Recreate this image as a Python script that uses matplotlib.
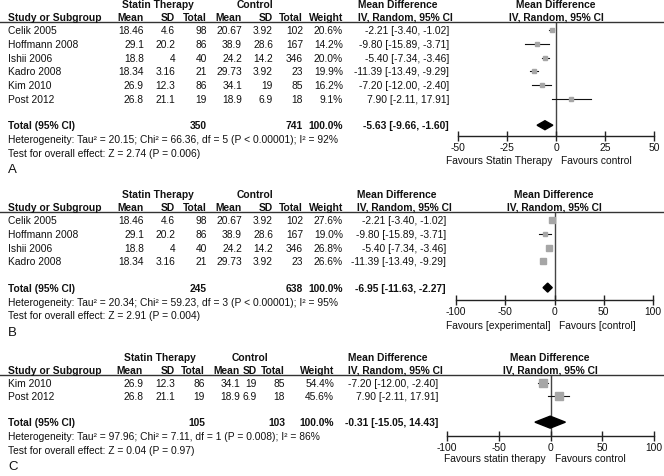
import matplotlib
matplotlib.use("Agg")
import matplotlib.pyplot as plt
from matplotlib.patches import Polygon

plt.rcParams['font.family'] = ['Liberation Sans', 'DejaVu Sans']
plt.rcParams['axes.unicode_minus'] = False

# ---------------- data ----------------
studies_A = ["Celik 2005", "Hoffmann 2008", "Ishii 2006", "Kadro 2008", "Kim 2010", "Post 2012"]
statin_mean_A = ["18.46", "29.1", "18.8", "18.34", "26.9", "26.8"]
statin_sd_A = ["4.6", "20.2", "4", "3.16", "12.3", "21.1"]
statin_n_A = [98, 86, 40, 21, 86, 19]
ctrl_mean_A = ["20.67", "38.9", "24.2", "29.73", "34.1", "18.9"]
ctrl_sd_A = ["3.92", "28.6", "14.2", "3.92", "19", "6.9"]
ctrl_n_A = [102, 167, 346, 23, 85, 18]
weight_A = [20.6, 14.2, 20.0, 19.9, 16.2, 9.1]
md_A = [-2.21, -9.80, -5.40, -11.39, -7.20, 7.90]
lo_A = [-3.40, -15.89, -7.34, -13.49, -12.00, -2.11]
hi_A = [-1.02, -3.71, -3.46, -9.29, -2.40, 17.91]
total_A = dict(n1=350, n2=741, md=-5.63, lo=-9.66, hi=-1.60)
het_A = "Heterogeneity: Tau\u00b2 = 20.15; Chi\u00b2 = 66.36, df = 5 (P < 0.00001); I\u00b2 = 92%"
test_A = "Test for overall effect: Z = 2.74 (P = 0.006)"
ticks_A = [-50, -25, 0, 25, 50]
fav_A = ("Favours Statin Therapy", "Favours control")

studies_B = ["Celik 2005", "Hoffmann 2008", "Ishii 2006", "Kadro 2008"]
statin_mean_B = ["18.46", "29.1", "18.8", "18.34"]
statin_sd_B = ["4.6", "20.2", "4", "3.16"]
statin_n_B = [98, 86, 40, 21]
ctrl_mean_B = ["20.67", "38.9", "24.2", "29.73"]
ctrl_sd_B = ["3.92", "28.6", "14.2", "3.92"]
ctrl_n_B = [102, 167, 346, 23]
weight_B = [27.6, 19.0, 26.8, 26.6]
md_B = [-2.21, -9.80, -5.40, -11.39]
lo_B = [-3.40, -15.89, -7.34, -13.49]
hi_B = [-1.02, -3.71, -3.46, -9.29]
total_B = dict(n1=245, n2=638, md=-6.95, lo=-11.63, hi=-2.27)
het_B = "Heterogeneity: Tau\u00b2 = 20.34; Chi\u00b2 = 59.23, df = 3 (P < 0.00001); I\u00b2 = 95%"
test_B = "Test for overall effect: Z = 2.91 (P = 0.004)"
ticks_B = [-100, -50, 0, 50, 100]
fav_B = ("Favours [experimental]", "Favours [control]")

studies_C = ["Kim 2010", "Post 2012"]
statin_mean_C = ["26.9", "26.8"]
statin_sd_C = ["12.3", "21.1"]
statin_n_C = [86, 19]
ctrl_mean_C = ["34.1", "18.9"]
ctrl_sd_C = ["19", "6.9"]
ctrl_n_C = [85, 18]
weight_C = [54.4, 45.6]
md_C = [-7.20, 7.90]
lo_C = [-12.00, -2.11]
hi_C = [-2.40, 17.91]
total_C = dict(n1=105, n2=103, md=-0.31, lo=-15.05, hi=14.43)
het_C = "Heterogeneity: Tau\u00b2 = 97.96; Chi\u00b2 = 7.11, df = 1 (P = 0.008); I\u00b2 = 86%"
test_C = "Test for overall effect: Z = 0.04 (P = 0.97)"
ticks_C = [-100, -50, 0, 50, 100]
fav_C = ("Favours statin therapy", "Favours control")

# ---------------- figure ----------------
W, H = 664, 477
fig = plt.figure(figsize=(W / 100, H / 100), dpi=100)
FS = 7.4


def T(x, y, s, ha='left', bold=False, size=FS):
    fig.text(x / W, 1 - y / H, s, ha=ha, va='center', fontsize=size,
             fontweight='bold' if bold else 'normal', color='#111111')


def fmt_ci(m, l, h):
    return f"{m:.2f} [{l:.2f}, {h:.2f}]"


def panel(label, studies, sm, ssd, sn, cm, csd, cn, wt, md, lo, hi, tot, het, test,
          ticks, fav, lay):
    yh = lay['yhead']
    yg = yh - 13
    cols = lay['cols']  # right edges: sm, ssd, sn, cm, csd, cn, weight
    mdx = lay['mdx']    # left edge of MD header, right edge of MD text
    # group headers
    T(lay['statin_c'], yg, "Statin Therapy", ha='center', bold=True)
    T(lay['ctrl_c'], yg, "Control", ha='center', bold=True)
    T(mdx[0], yg, "Mean Difference", bold=True)
    x0 = lay['xz']
    T(x0, yg, "Mean Difference", ha='center', bold=True)
    # column headers
    T(8, yh, "Study or Subgroup", bold=True)
    for x, s in zip(cols, ["Mean", "SD", "Total", "Mean", "SD", "Total", "Weight"]):
        T(x, yh, s, ha='right', bold=True)
    T(mdx[0], yh, "IV, Random, 95% CI", bold=True)
    T(x0, yh, "IV, Random, 95% CI", ha='center', bold=True)
    # header rule
    yl = lay['yline']
    fig.add_artist(plt.Line2D([0, 1], [1 - yl / H, 1 - yl / H], color='#333333', lw=1.0))
    # rows
    step = lay['step']
    rows = [lay['row0'] + i * step for i in range(len(studies))]
    for y, st, a, b, c, d, e, f, w, m, l, h in zip(rows, studies, sm, ssd, sn, cm, csd, cn, wt, md, lo, hi):
        T(8, y, st)
        for x, s in zip(cols, [a, b, str(c), d, e, str(f), f"{w:.1f}%"]):
            T(x, y, s, ha='right')
        T(mdx[1], y, fmt_ci(m, l, h), ha='right')
    yt = rows[-1] + 1.9 * step
    T(8, yt, "Total (95% CI)", bold=True)
    T(cols[2], yt, str(tot['n1']), ha='right', bold=True)
    T(cols[5], yt, str(tot['n2']), ha='right', bold=True)
    T(cols[6], yt, "100.0%", ha='right', bold=True)
    T(mdx[1], yt, fmt_ci(tot['md'], tot['lo'], tot['hi']), ha='right', bold=True)
    T(8, yt + 14, het)
    T(8, yt + 27.5, test)
    T(8, yt + 44, label, size=9.5)

    # forest axes
    xL, xR, ya = lay['xL'], lay['xR'], lay['yaxis']
    ax = fig.add_axes([xL / W, 1 - ya / H, (xR - xL) / W, (ya - yl) / H])
    L = ticks[-1]
    ax.set_xlim(-L, L)
    ax.set_ylim(ya, yl)
    ax.patch.set_alpha(0)
    for s in ['top', 'right', 'left']:
        ax.spines[s].set_visible(False)
    ax.spines['bottom'].set_color('#222222')
    ax.spines['bottom'].set_linewidth(1.0)
    ax.set_yticks([])
    ax.set_xticks(ticks)
    ax.set_xticklabels([str(t) for t in ticks])
    ax.tick_params(axis='x', direction='inout', length=7, width=1.0, color='#222222',
                   labelsize=FS, pad=1, labelcolor='#111111')
    ax.axvline(0, color='#444444', lw=1.0, zorder=1)
    for y, w, m, l, h in zip(rows, wt, md, lo, hi):
        ax.plot([l, h], [y, y], color='#111111', lw=0.8, zorder=2)
        ax.plot([m], [y], marker='s', ms=lay['msk'] * w ** 0.5 * 0.72, color='#a6a6a6',
                mec='#a6a6a6', zorder=3, linestyle='none')
    dh = lay['dh'] / 2
    ax.add_patch(Polygon([[tot['lo'], yt], [tot['md'], yt - dh], [tot['hi'], yt], [tot['md'], yt + dh]],
                         closed=True, color='black', zorder=4))
    T(x0 - 4, lay['yfav'], fav[0], ha='right')
    T(x0 + 5, lay['yfav'], fav[1], ha='left')


layA = dict(yhead=18, yline=23, row0=31, step=13.8,
            cols=[144, 175, 207, 242, 273, 303, 343], mdx=(358, 449),
            statin_c=158, ctrl_c=255, xz=556, xL=458, xR=654, yaxis=137, yfav=161,
            msk=1.1, dh=9)
layB = dict(yhead=208, yline=213, row0=221, step=13.8,
            cols=[144, 175, 207, 242, 273, 303, 343], mdx=(357, 446),
            statin_c=158, ctrl_c=255, xz=554, xL=456, xR=653, yaxis=301, yfav=326,
            msk=1.0, dh=9)
layC = dict(yhead=371, yline=376, row0=384, step=13.5,
            cols=[143, 175, 205, 240, 257, 285, 334], mdx=(348, 438),
            statin_c=160, ctrl_c=250, xz=550, xL=447, xR=654, yaxis=437, yfav=459,
            msk=1.2, dh=12)

panel("A", studies_A, statin_mean_A, statin_sd_A, statin_n_A, ctrl_mean_A, ctrl_sd_A, ctrl_n_A,
      weight_A, md_A, lo_A, hi_A, total_A, het_A, test_A, ticks_A, fav_A, layA)
panel("B", studies_B, statin_mean_B, statin_sd_B, statin_n_B, ctrl_mean_B, ctrl_sd_B, ctrl_n_B,
      weight_B, md_B, lo_B, hi_B, total_B, het_B, test_B, ticks_B, fav_B, layB)
panel("C", studies_C, statin_mean_C, statin_sd_C, statin_n_C, ctrl_mean_C, ctrl_sd_C, ctrl_n_C,
      weight_C, md_C, lo_C, hi_C, total_C, het_C, test_C, ticks_C, fav_C, layC)

fig.savefig("out.png", dpi=100)
